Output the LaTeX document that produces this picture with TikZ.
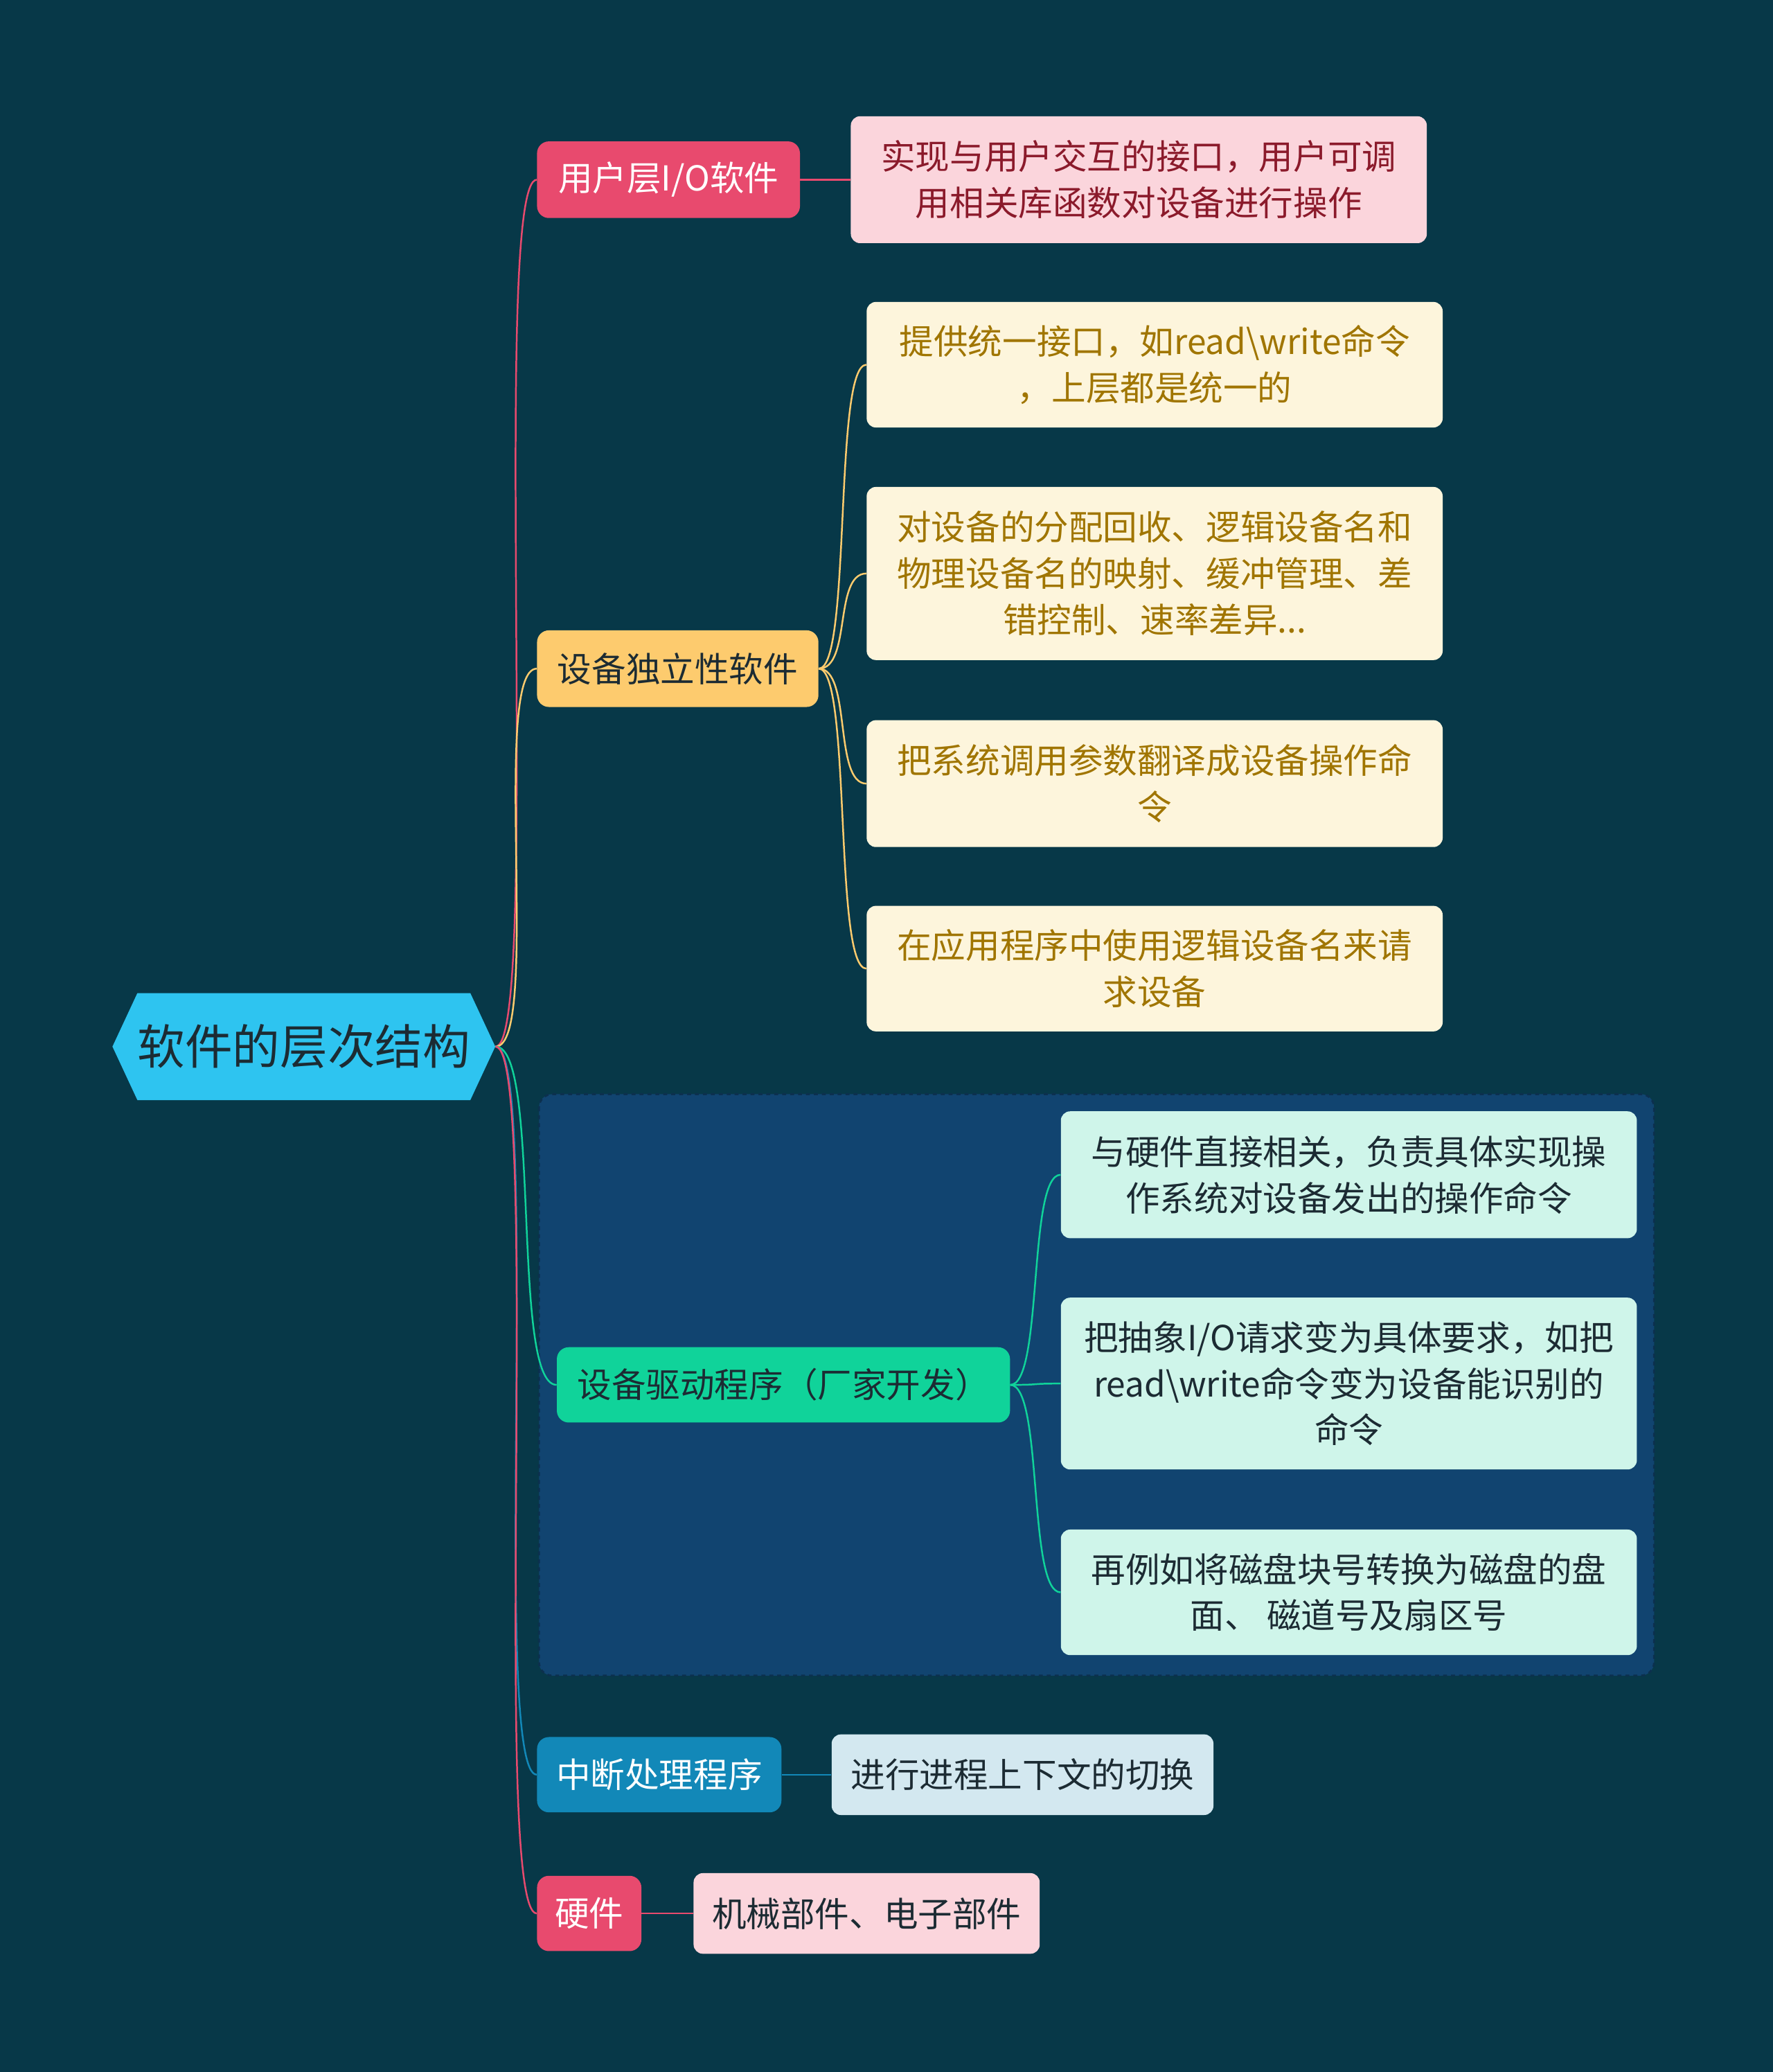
\documentclass[tikz,border=0pt]{standalone}
\usepackage{fontspec}
\setmainfont{Noto Sans CJK SC}
\usetikzlibrary{shapes.symbols}
\definecolor{bg}{HTML}{073848}
\definecolor{rootc}{HTML}{2EC4F0}
\definecolor{redc}{HTML}{E84A6E}
\definecolor{redl}{HTML}{FBD5DC}
\definecolor{redt}{HTML}{8B1A2B}
\definecolor{yelc}{HTML}{FDCB6E}
\definecolor{yell}{HTML}{FDF5DC}
\definecolor{yelt}{HTML}{A07500}
\definecolor{grnc}{HTML}{10D39A}
\definecolor{grnl}{HTML}{CFF5EA}
\definecolor{bluc}{HTML}{1288B8}
\definecolor{blul}{HTML}{D3E8F0}
\definecolor{grp}{HTML}{114470}
\definecolor{dk}{HTML}{1C2B33}
\tikzset{x=1pt,y=-1pt,
 br/.style={rounded corners=9pt,inner sep=0pt,font=\fontsize{26}{32}\selectfont},
 lf/.style={rounded corners=7pt,inner sep=0pt,align=center,font=\fontsize{26}{35}\selectfont},
 cn/.style={line width=1.3pt}}
\begin{document}
\begin{tikzpicture}
\fill[bg] (0,0) rectangle (1342,1568);
\useasboundingbox (0,0) rectangle (1342,1568);
\draw[grp!70!black,fill=grp,dashed,line width=1.5pt,rounded corners=10pt] (408,828) rectangle (1252,1268);
% root
\node[signal,signal to=west and east,signal pointer angle=130,fill=rootc,minimum width=280pt,minimum height=81pt,inner sep=0pt,font=\fontsize{36}{40}\selectfont,text=dk] (root) at (230,792) {软件的层次结构};
% branches
\node[br,fill=redc,text=white,minimum width=199pt,minimum height=58pt] (b1) at (506,136) {用户层I/O软件};
\node[br,fill=yelc,text=dk,minimum width=213pt,minimum height=58pt] (b2) at (513,506) {设备独立性软件};
\node[br,fill=grnc,text=dk,minimum width=343pt,minimum height=57pt] (b3) at (593,1048) {设备驱动程序（厂家开发）};
\node[br,fill=bluc,text=white,minimum width=185pt,minimum height=57pt] (b4) at (499,1343) {中断处理程序};
\node[br,fill=redc,text=white,minimum width=79pt,minimum height=57pt] (b5) at (446,1448) {硬件};
% leaves
\node[lf,fill=redl,text=redt,minimum width=436pt,minimum height=96pt] (l1) at (862,136) {实现与用户交互的接口，用户可调\\用相关库函数对设备进行操作};
\node[lf,fill=yell,text=yelt,minimum width=436pt,minimum height=95pt] (y1) at (874,276) {提供统一接口，如read\textbackslash write命令\\，上层都是统一的};
\node[lf,fill=yell,text=yelt,minimum width=436pt,minimum height=131pt] (y2) at (874,434) {对设备的分配回收、逻辑设备名和\\物理设备名的映射、缓冲管理、差\\错控制、速率差异...};
\node[lf,fill=yell,text=yelt,minimum width=436pt,minimum height=96pt] (y3) at (874,593) {把系统调用参数翻译成设备操作命\\令};
\node[lf,fill=yell,text=yelt,minimum width=436pt,minimum height=95pt] (y4) at (874,733) {在应用程序中使用逻辑设备名来请\\求设备};
\node[lf,fill=grnl,text=dk,minimum width=436pt,minimum height=96pt] (g1) at (1021,889) {与硬件直接相关，负责具体实现操\\作系统对设备发出的操作命令};
\node[lf,fill=grnl,text=dk,minimum width=436pt,minimum height=130pt] (g2) at (1021,1047) {把抽象I/O请求变为具体要求，如把\\read\textbackslash write命令变为设备能识别的\\命令};
\node[lf,fill=grnl,text=dk,minimum width=436pt,minimum height=95pt] (g3) at (1021,1205) {再例如将磁盘块号转换为磁盘的盘\\面、 磁道号及扇区号};
\node[lf,fill=blul,text=dk,minimum width=289pt,minimum height=61pt] (u1) at (774,1343) {进行进程上下文的切换};
\node[lf,fill=redl,text=dk,minimum width=262pt,minimum height=61pt] (r1) at (656,1448) {机械部件、电子部件};
% connectors
\draw[cn,redc] (root.east) .. controls +(35,0) and +(-35,0) .. (b1.west);
\draw[cn,yelc] (root.east) .. controls +(35,0) and +(-35,0) .. (b2.west);
\draw[cn,grnc] (root.east) .. controls +(35,0) and +(-35,0) .. (b3.west);
\draw[cn,bluc] (root.east) .. controls +(35,0) and +(-35,0) .. (b4.west);
\draw[cn,redc] (root.east) .. controls +(35,0) and +(-35,0) .. (b5.west);
\draw[cn,redc] (b1.east) -- (l1.west);
\foreach \t in {y1,y2,y3,y4}
 \draw[cn,yelc] (b2.east) .. controls +(25,0) and +(-25,0) .. (\t.west);
\foreach \t in {g1,g2,g3}
 \draw[cn,grnc] (b3.east) .. controls +(25,0) and +(-25,0) .. (\t.west);
\draw[cn,bluc] (b4.east) -- (u1.west);
\draw[cn,redc] (b5.east) -- (r1.west);
\end{tikzpicture}
\end{document}
